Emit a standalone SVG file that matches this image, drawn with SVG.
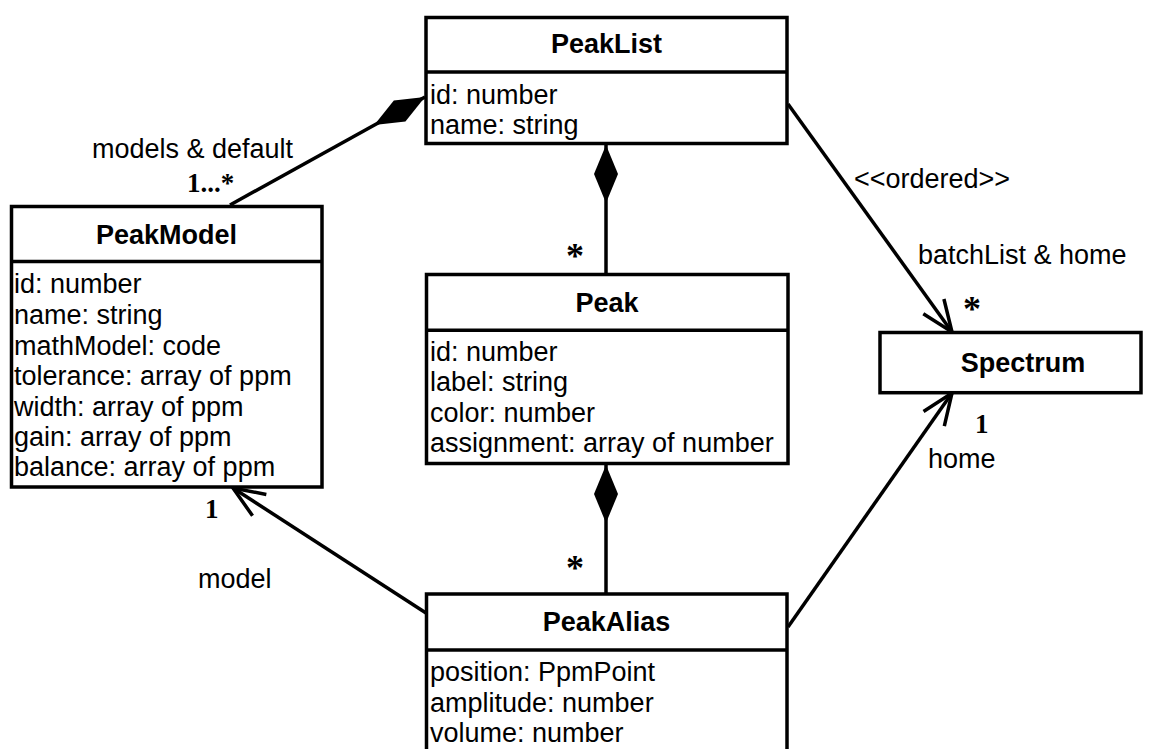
<svg xmlns="http://www.w3.org/2000/svg" width="1154" height="749" viewBox="0 0 1154 749">
  <style>
    .box { fill: #ffffff; stroke: #000000; stroke-width: 3.5; }
    .div { stroke: #000000; stroke-width: 3.5; }
    .title { font-family: "Liberation Sans", Arial, sans-serif; font-size: 27px; font-weight: bold; text-anchor: middle; fill: #000; }
    .attr { font-family: "Liberation Sans", Arial, sans-serif; font-size: 27px; fill: #000; }
    .lbl { font-family: "Liberation Sans", Arial, sans-serif; font-size: 27px; fill: #000; }
    .mult { font-family: "Liberation Serif", "Times New Roman", serif; font-size: 27px; font-weight: bold; fill: #000; }
    .star { font-family: "Liberation Serif", "Times New Roman", serif; font-size: 36px; font-weight: bold; fill: #000; text-anchor: middle; }
    .conn { fill: none; stroke: #000000; stroke-width: 3.5; }
  </style>
  <defs>
    <!-- filled diamond for composition, placed at the owning end -->
    <marker id="diamond" markerUnits="userSpaceOnUse" markerWidth="64" markerHeight="30" viewBox="-2 -15 64 30" refX="0" refY="0" orient="auto">
      <path d="M0,0 L29,-12 L58,0 L29,12 Z" fill="#000000"/>
    </marker>
    <!-- open navigation arrow -->
    <marker id="open" markerUnits="userSpaceOnUse" markerWidth="40" markerHeight="34" viewBox="-36 -17 40 34" refX="0" refY="0" orient="auto">
      <path d="M-31.5,-12.7 L0,0 L-31.5,12.7" fill="none" stroke="#000000" stroke-width="3.5"/>
    </marker>
  </defs>

  <rect width="1154" height="749" fill="#ffffff"/>

  <g id="connectors">
    <line class="conn" x1="425" y1="97" x2="230" y2="205" marker-start="url(#diamond)"/>
    <line class="conn" x1="606" y1="145" x2="606" y2="274" marker-start="url(#diamond)"/>
    <line class="conn" x1="606" y1="465" x2="606" y2="594" marker-start="url(#diamond)"/>
    <line class="conn" x1="788" y1="104" x2="952" y2="332" marker-end="url(#open)"/>
    <line class="conn" x1="788" y1="627" x2="952" y2="393" marker-end="url(#open)"/>
    <line class="conn" x1="426" y1="613" x2="233" y2="488" marker-end="url(#open)"/>

    <text class="lbl" x="92" y="158">models &amp; default</text>
    <text class="mult" x="187" y="192">1...*</text>
    <text class="star" x="575" y="268">*</text>
    <text class="star" x="575" y="579.5">*</text>
    <text class="lbl" x="854" y="188">&lt;&lt;ordered&gt;&gt;</text>
    <text class="lbl" x="918" y="264">batchList &amp; home</text>
    <text class="star" x="972" y="320.5">*</text>
    <text class="mult" x="975" y="433">1</text>
    <text class="lbl" x="928" y="468">home</text>
    <text class="mult" x="205" y="518">1</text>
    <text class="lbl" x="198" y="587.5">model</text>
  </g>

  <g id="PeakList">
    <rect class="box" x="426" y="17.5" width="361" height="126"/>
    <line class="div" x1="426" y1="72" x2="787" y2="72"/>
    <text class="title" x="606.5" y="53">PeakList</text>
    <text class="attr" x="430" y="104">id: number</text>
    <text class="attr" x="430" y="134">name: string</text>
  </g>

  <g id="PeakModel">
    <rect class="box" x="11.5" y="206.5" width="310.5" height="280.5"/>
    <line class="div" x1="11.5" y1="261.5" x2="322" y2="261.5"/>
    <text class="title" x="166.5" y="244">PeakModel</text>
    <text class="attr" x="14" y="293.3">id: number</text>
    <text class="attr" x="14" y="323.6">name: string</text>
    <text class="attr" x="14" y="354.6">mathModel: code</text>
    <text class="attr" x="14" y="385">tolerance: array of ppm</text>
    <text class="attr" x="14" y="415.5">width: array of ppm</text>
    <text class="attr" x="14" y="446">gain: array of ppm</text>
    <text class="attr" x="14" y="476.3">balance: array of ppm</text>
  </g>

  <g id="Peak">
    <rect class="box" x="426.5" y="274.5" width="361.5" height="189"/>
    <line class="div" x1="426.5" y1="330.3" x2="788" y2="330.3"/>
    <text class="title" x="607" y="312">Peak</text>
    <text class="attr" x="430" y="360.7">id: number</text>
    <text class="attr" x="430" y="390.9">label: string</text>
    <text class="attr" x="430" y="421.5">color: number</text>
    <text class="attr" x="430" y="451.7">assignment: array of number</text>
  </g>

  <g id="PeakAlias">
    <rect class="box" x="426.5" y="594" width="360.5" height="170"/>
    <line class="div" x1="426.5" y1="650" x2="787" y2="650"/>
    <text class="title" x="606.5" y="631">PeakAlias</text>
    <text class="attr" x="430" y="680.7">position: PpmPoint</text>
    <text class="attr" x="430" y="711.5">amplitude: number</text>
    <text class="attr" x="430" y="741.7">volume: number</text>
  </g>

  <g id="Spectrum">
    <rect class="box" x="880" y="332.5" width="261" height="60.2"/>
    <text class="title" x="1023" y="372">Spectrum</text>
  </g>
</svg>
